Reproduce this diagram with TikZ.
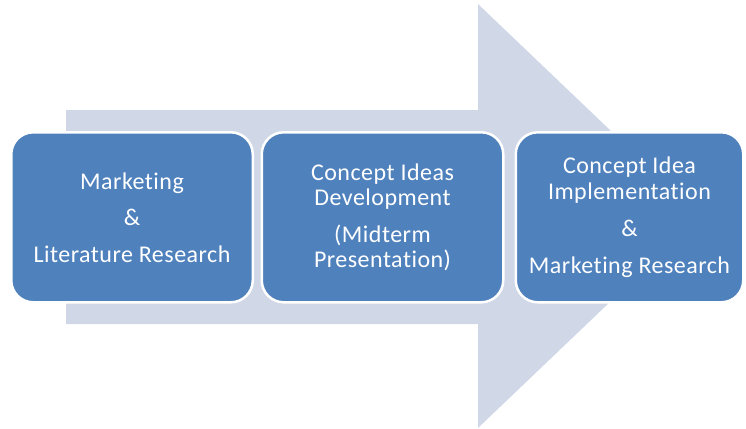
\documentclass[tikz,border=0pt]{standalone}
\usepackage{fontspec}
\setmainfont{Carlito}[Ligatures=NoCommon, LetterSpace=2]
\usepackage{xcolor}
\definecolor{stageblue}{HTML}{4F81BD}
\definecolor{arrowgrey}{HTML}{D0D8E8}
\tikzset{
    stage/.style={
        draw=white, line width=2.5pt, fill=stageblue,
        rounded corners=22pt, inner sep=0pt,
        minimum height=170pt,
        text=white, align=center,
        font=\fontsize{24}{25}\selectfont
    }
}

\begin{document}
\begin{tikzpicture}[x=1pt,y=-1pt, line join=round]

\useasboundingbox (0,0) rectangle (746,428);

% big arrow behind the stages
\fill[arrowgrey] (66,110) -- (478,110) -- (478,4) -- (700,216)
  -- (478,428) -- (478,324) -- (66,324) -- cycle;

% stage 1
\node[stage, minimum width=241.5pt] (research) at (132,217.3)
  {Marketing\\[11.5pt]\&\\[11.5pt]Literature Research};

% stage 2
\node[stage, minimum width=241.5pt] (ideas) at (382.5,217.3)
  {Concept Ideas\\Development\\[12pt](Midterm\\Presentation)};

% stage 3
\node[stage, minimum width=227.5pt] (implementation) at (629.5,217.3)
  {Concept Idea\\[1pt]Implementation\\[12pt]\&\\[12pt]Marketing Research};

\end{tikzpicture}
\end{document}
